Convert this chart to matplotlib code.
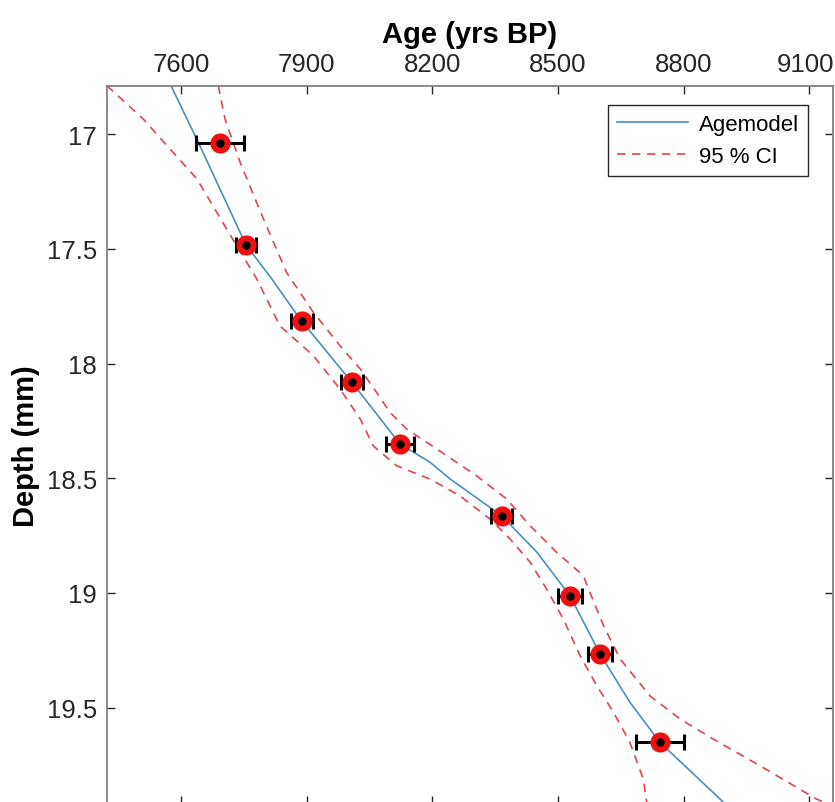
import matplotlib

matplotlib.use('Agg')

import matplotlib.pyplot as plt
import matplotlib.transforms as mtransforms

plt.rcParams['font.family'] = ['Liberation Sans', 'DejaVu Sans']

# dated samples: age (yrs BP), depth (mm), age error (yrs)
sample_age = [7693, 7755, 7888, 8008, 8123, 8366, 8529, 8601, 8744]
sample_depth = [17.039, 17.483, 17.814, 18.082, 18.351, 18.664, 19.013, 19.267, 19.652]
sample_err = [58, 23, 26, 26, 33, 25, 28, 29, 57]

# age model (central line)
model_age = [7576, 7645, 7755, 7817, 7884, 8008, 8123, 8195, 8243, 8366,
             8450, 8529, 8601, 8672, 8744, 8895]
model_depth = [16.789, 17.051, 17.483, 17.632, 17.806, 18.082, 18.351, 18.431,
               18.504, 18.664, 18.823, 19.013, 19.267, 19.477, 19.652, 19.912]

# 95 % confidence bounds
ci_low_age = [7423, 7510, 7638, 7733, 7781, 7836, 7916, 7980, 8028, 8059, 8115,
              8195, 8266, 8338, 8386, 8434, 8473, 8513, 8553, 8593, 8633, 8672,
              8704, 8712]
ci_low_depth = [16.789, 16.935, 17.196, 17.487, 17.632, 17.836, 17.966, 18.112,
                18.242, 18.359, 18.446, 18.504, 18.577, 18.678, 18.765, 18.867,
                18.983, 19.114, 19.274, 19.405, 19.521, 19.652, 19.812, 19.912]

ci_high_age = [7689, 7705, 7741, 7797, 7852, 7916, 7980, 8028, 8067, 8099, 8139,
               8211, 8306, 8378, 8434, 8497, 8561, 8573, 8609, 8649, 8720, 8792,
               8871, 8983, 9118, 9160]
ci_high_depth = [16.789, 16.935, 17.123, 17.371, 17.603, 17.777, 17.923, 18.024,
                 18.126, 18.213, 18.286, 18.373, 18.490, 18.591, 18.708, 18.823,
                 18.925, 18.983, 19.143, 19.289, 19.449, 19.550, 19.637, 19.754,
                 19.899, 19.93]

x_ticks = [7600, 7900, 8200, 8500, 8800, 9100]
y_ticks = [17, 17.5, 18, 18.5, 19, 19.5]

fig = plt.figure(figsize=(8.35, 8.03), dpi=100)
ax = fig.add_axes([0.1281, -0.003, 0.8695, 0.895])

ax.plot(model_age, model_depth, color='#4a8fc2', lw=1.2, label='Agemodel', zorder=2)
ax.plot(ci_low_age, ci_low_depth, '--', color='#e3434c', lw=1.2,
        dashes=(5, 4), label='95 % CI', zorder=2)
ax.plot(ci_high_age, ci_high_depth, '--', color='#e3434c', lw=1.2,
        dashes=(5, 4), zorder=2)

ax.errorbar(sample_age, sample_depth, xerr=sample_err, fmt='none', ecolor='black',
            elinewidth=2.2, capsize=6, capthick=2.2, zorder=3)
ax.plot(sample_age, sample_depth, 'o', color='#f01010', ms=14.5, mec='none', zorder=4)
ax.plot(sample_age, sample_depth, 'o', color='black', ms=6, mec='none', zorder=5)

ax.set_xlim(7423, 9157)
ax.set_ylim(19.922, 16.789)
ax.set_xticks(x_ticks)
ax.set_yticks(y_ticks)
ax.set_yticklabels(['17', '17.5', '18', '18.5', '19', '19.5'])

ax.xaxis.tick_top()
ax.xaxis.set_label_position('top')
ax.tick_params(axis='both', direction='in', length=6, width=1, color='#262626',
               labelcolor='#262626', labelsize=18.5, top=True, bottom=True,
               left=True, right=True)
ax.tick_params(axis='x', pad=7)
ax.tick_params(axis='y', pad=7)
for s in ax.spines.values():
    s.set_color('#808080')
    s.set_linewidth(1.3)

# keep the last top label inside the figure
fig.canvas.draw()
last = ax.get_xticklabels(which='major')[-1]
last.set_transform(last.get_transform() +
                   mtransforms.ScaledTranslation(-4 / 100, 0, fig.dpi_scale_trans))

ax.set_xlabel('Age (yrs BP)', fontsize=21, fontweight='bold', labelpad=7)
ax.set_ylabel('Depth (mm)', fontsize=21, fontweight='bold', labelpad=5)

leg = ax.legend(loc='upper right', bbox_to_anchor=(0.9656, 0.973), borderaxespad=0,
                fontsize=16, fancybox=False, framealpha=1, edgecolor='#262626',
                handlelength=3.2, handletextpad=0.5, borderpad=0.4,
                labelspacing=0.5)
leg.get_frame().set_linewidth(1)

fig.savefig('out.png', dpi=100)
